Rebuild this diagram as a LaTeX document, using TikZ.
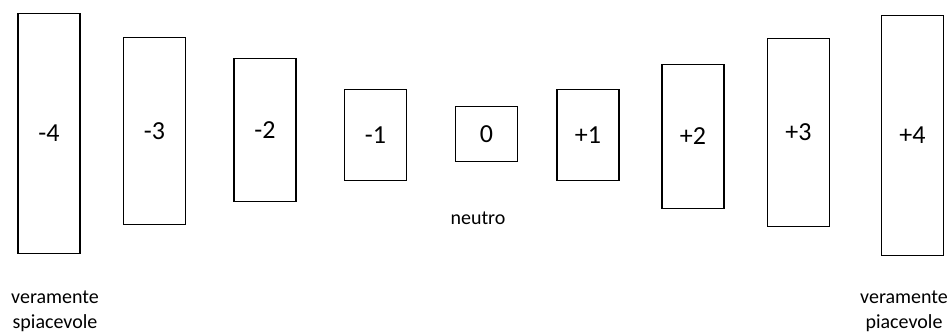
\documentclass[tikz,border=0pt]{standalone}
\usepackage{fontspec}
\setmainfont{Carlito}

\begin{document}
\begin{tikzpicture}[x=1pt,y=-1pt,line width=1.6pt,
  my box/.style={draw,rectangle,minimum width=62pt,inner sep=0pt,font=\fontsize{26}{30}\selectfont},
  my label/.style={align=center,inner sep=0pt,font=\fontsize{20}{25}\selectfont}]
  \useasboundingbox (0,0) rectangle (950,334);
  % BOXES
  \node[my box,minimum height=240pt] (m4) at (49,133.5) {-4};
  \node[my box,minimum height=187pt] (m3) at (154.5,131) {-3};
  \node[my box,minimum height=143pt] (m2) at (265,130) {-2};
  \node[my box,minimum height=91pt] (m1) at (375.5,135) {-1};
  \node[my box,minimum height=55pt] (z0) at (486.5,134) {0};
  \node[my box,minimum height=91pt] (p1) at (588,135) {+1};
  \node[my box,minimum height=144pt] (p2) at (693,136.5) {+2};
  \node[my box,minimum height=188pt] (p3) at (798.5,132.5) {+3};
  \node[my box,minimum height=240pt] (p4) at (912.5,135.5) {+4};
  % LABELS
  \node[my label] (neg) at (55,311) {veramente\\spiacevole};
  \node[my label] (neu) at (478,218) {neutro};
  \node[my label] (pos) at (904,311) {veramente\\piacevole};
\end{tikzpicture}
\end{document}
